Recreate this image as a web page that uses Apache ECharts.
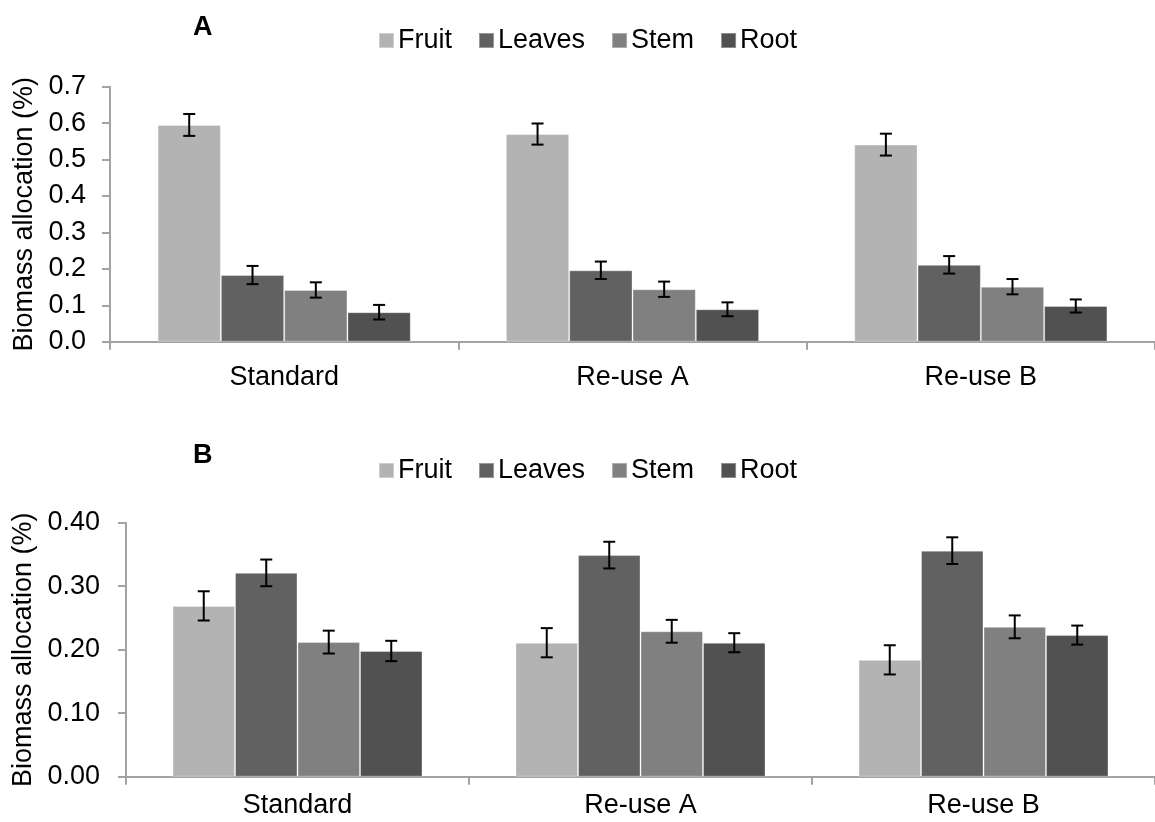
<!DOCTYPE html>
<html>
<head>
<meta charset="utf-8">
<style>
  html, body { margin: 0; padding: 0; background: #ffffff; }
  #chart { width: 1155px; height: 822px; }
</style>
<script src="https://cdn.jsdelivr.net/npm/echarts@6/dist/echarts.min.js"></script>
</head>
<body>
<div id="chart"></div>
<script>
// Treatments shown along both x axes
const categories = ['Standard', 'Re-use A', 'Re-use B'];
const organs = ['Fruit', 'Leaves', 'Stem', 'Root'];

// Panel A: biomass allocation means
const fruitA  = [0.595, 0.570, 0.541];
const leavesA = [0.183, 0.196, 0.211];
const stemA   = [0.142, 0.144, 0.151];
const rootA   = [0.081, 0.089, 0.098];
// Panel A: error bar half-widths
const fruitErrA  = [0.030, 0.029, 0.030];
const leavesErrA = [0.025, 0.024, 0.024];
const stemErrA   = [0.021, 0.021, 0.021];
const rootErrA   = [0.020, 0.019, 0.018];

// Panel B: biomass allocation means
const fruitB  = [0.269, 0.211, 0.184];
const leavesB = [0.321, 0.349, 0.356];
const stemB   = [0.212, 0.229, 0.236];
const rootB   = [0.198, 0.211, 0.223];
// Panel B: error bar half-widths
const fruitErrB  = [0.023, 0.023, 0.023];
const leavesErrB = [0.021, 0.021, 0.021];
const stemErrB   = [0.018, 0.018, 0.018];
const rootErrB   = [0.016, 0.015, 0.015];

// Y axis tick labels
const ticksA = ['0.0', '0.1', '0.2', '0.3', '0.4', '0.5', '0.6', '0.7'];
const ticksB = ['0.00', '0.10', '0.20', '0.30', '0.40'];

const colors = ['#b3b3b3', '#616161', '#808080', '#515151'];
const FONT = '"Liberation Sans", Arial, sans-serif';
const AXIS_COLOR = '#a3a3a3';

const meansA = [fruitA, leavesA, stemA, rootA];
const errsA  = [fruitErrA, leavesErrA, stemErrA, rootErrA];
const meansB = [fruitB, leavesB, stemB, rootB];
const errsB  = [fruitErrB, leavesErrB, stemErrB, rootErrB];

const BAR_W_A = 63.3;
const BAR_W_B = 62.5;

function errorData(means, errs) {
  const out = [];
  means.forEach((arr, s) => arr.forEach((v, c) => out.push([c, s, v, errs[s][c]])));
  return out;
}

// Draws a capped vertical error bar centred on each bar of the group
function errorRenderer(barW) {
  return function (params, api) {
    const c = api.value(0), s = api.value(1), m = api.value(2), e = api.value(3);
    const x = api.coord([c, m])[0] + (s - 1.5) * barW;
    const yTop = api.coord([c, m + e])[1];
    const yBot = api.coord([c, m - e])[1];
    const cap = 6;
    const style = { stroke: '#000', lineWidth: 2 };
    return {
      type: 'group',
      children: [
        { type: 'line', shape: { x1: x, y1: yTop, x2: x, y2: yBot }, style },
        { type: 'line', shape: { x1: x - cap, y1: yTop, x2: x + cap, y2: yTop }, style },
        { type: 'line', shape: { x1: x - cap, y1: yBot, x2: x + cap, y2: yBot }, style }
      ]
    };
  };
}

function xAxis(gridIndex, margin) {
  return {
    type: 'category', gridIndex, data: categories,
    axisLine: { lineStyle: { color: AXIS_COLOR, width: 2 } },
    axisTick: { show: true, length: 8, lineStyle: { color: AXIS_COLOR, width: 2 } },
    axisLabel: { color: '#000', fontSize: 27, fontFamily: FONT, margin }
  };
}

function yAxis(gridIndex, max, ticks, margin, nameGap) {
  return {
    type: 'value', gridIndex, min: 0, max, interval: 0.1,
    name: 'Biomass allocation (%)', nameLocation: 'middle', nameRotate: 90, nameGap,
    nameTextStyle: { color: '#000', fontSize: 27, fontFamily: FONT },
    axisLine: { show: true, lineStyle: { color: AXIS_COLOR, width: 2 } },
    axisTick: { show: true, length: 8, lineStyle: { color: AXIS_COLOR, width: 2 } },
    splitLine: { show: false },
    axisLabel: {
      color: '#000', fontSize: 27, fontFamily: FONT, margin,
      formatter: (v) => ticks[Math.round(v * 10)]
    }
  };
}

function barSeries(means, axisIdx, barW) {
  return means.map((vals, i) => ({
    name: organs[i], type: 'bar',
    xAxisIndex: axisIdx, yAxisIndex: axisIdx,
    data: vals, barWidth: barW, barGap: '0%',
    itemStyle: { color: colors[i], borderColor: 'rgba(255,255,255,0.35)', borderWidth: 1 },
    emphasis: { disabled: true },
    z: 2
  }));
}

function legend(top) {
  return {
    data: organs, top, left: 373,
    icon: 'rect', itemWidth: 15, itemHeight: 15, itemGap: 26,
    textStyle: { color: '#000', fontSize: 27, fontFamily: FONT, padding: [0, 0, 0, -1] },
    selectedMode: false
  };
}

const chart = echarts.init(document.getElementById('chart'), null, { renderer: 'canvas' });
chart.setOption({
  animation: false,
  backgroundColor: '#ffffff',
  textStyle: { fontFamily: FONT },
  title: [
    { text: 'A', left: 188, top: 9, textStyle: { fontSize: 27, fontWeight: 'bold', color: '#000', fontFamily: FONT } },
    { text: 'B', left: 188, top: 437, textStyle: { fontSize: 27, fontWeight: 'bold', color: '#000', fontFamily: FONT } }
  ],
  legend: [legend(22), legend(452)],
  grid: [
    { left: 110, top: 86.7, width: 1050, height: 255 },
    { left: 126, top: 522.7, width: 1033, height: 254 }
  ],
  xAxis: [xAxis(0, 22), xAxis(1, 15)],
  yAxis: [yAxis(0, 0.7, ticksA, 24, 68), yAxis(1, 0.4, ticksB, 26, 80)],
  series: [
    ...barSeries(meansA, 0, BAR_W_A),
    ...barSeries(meansB, 1, BAR_W_B),
    {
      type: 'custom', xAxisIndex: 0, yAxisIndex: 0, z: 5,
      renderItem: errorRenderer(BAR_W_A),
      encode: { x: 0, y: 2 },
      data: errorData(meansA, errsA)
    },
    {
      type: 'custom', xAxisIndex: 1, yAxisIndex: 1, z: 5,
      renderItem: errorRenderer(BAR_W_B),
      encode: { x: 0, y: 2 },
      data: errorData(meansB, errsB)
    }
  ]
});
</script>
</body>
</html>
